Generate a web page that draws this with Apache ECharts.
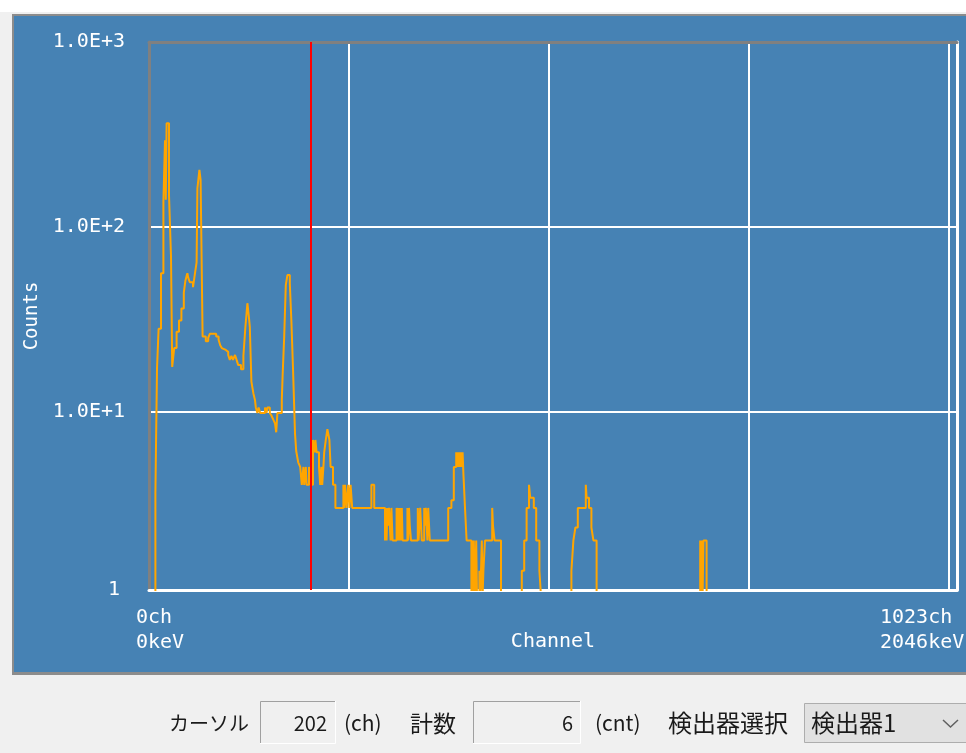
<!DOCTYPE html>
<html><head><meta charset="utf-8">
<script src="https://cdn.jsdelivr.net/npm/echarts@6/dist/echarts.min.js"></script>
<style>html,body{margin:0;padding:0;background:#fff;}#c{width:966px;height:753px;}</style>
</head><body><div id="c"></div>
<script>
// ---- data (step breakpoints: count holds from this channel until the next one) ----
const stepChannels = [0,8,10,12,15,18,20,21,22,25,27.5,29,31.5,34.5,37.5,40.5,43.5,45.5,47,48,49,51,55,57.5,59.5,60.5,63,64.5,67,71,74,76,84,87,89,91,93,96,99,101,103,105,107.5,109.5,111.5,115,118,120.5,123,125,126,128,130.5,132.5,133.5,135.5,137,139,145,147,148,151,153,155.5,157.5,159,160.5,166,167,169,171,173,176,178,180,182.5,184,186.5,189,191,193,194,196,197,200,202,205,207,208,209.5,212.5,214,215.5,216.5,218,219,221,223,225.5,227,230,233,243,244,245,247,249,250.5,252,254,278,281.5,295,296,297,298,299,300,302,303,304.5,309.5,311,312,313,314,315,316,317,323,324,325,326,327.5,336,337,339,341,344,345,346,348,349,351,374,378,381,384,385,386,387,388,389,390,391,392,393,395,397,403,404,405,406,407.5,409,410,413,414,415,416,417,418,420,429,430,432,440,466,469,472,475,476.5,481,484,488,490,528,530.5,533,536,546,547,550,553,555.5,559.5,689,690,691,692,693,697,1023];
const stepCounts = [1,3.6,17,28,56,136,294,140,363,148,69,17.4,22,27,31,36,44,51,54,56,53,50,47,56,64,161,203,179,25.4,24,25,26.3,25.4,24.4,22.8,22,21.5,21,20.2,19,20,19,20.2,19,17.8,16.9,20,28.7,38.5,32,28.7,14.5,12.5,11.5,10.5,9.8,10.5,9.8,10.5,9.8,10.5,9.8,9.5,9,8.6,7.7,9.8,11.5,15.5,25.4,48.3,54.7,49.5,30.6,17.1,7.6,6.1,5.3,5,4,5,4,5,4,5,4,7,6,7,6,5,4,5,4,5,6,7,8,7,5,4,3,4,3,4,3,4,3,4,3,4,3,2,3,2,3,2.4,3,2,3,2,3,2,3,2,3,2,3,2,3,2,3,2.4,2,3,2,3,2,3,2.4,3,2,3,2,3,3.3,5,6,5,6,5,6,5,6,5,6,4.6,3,2,1,2,1,2,1,2,1,1.37,1,1.37,2,1,1.37,2,3,2.4,2,1,1.37,2,3,4,3.4,3,2,1.37,1,1.37,2,2.35,3,4,3.4,3,2.35,2,1,2,1,2,1,2,1,1];
const cursorChannel = 202;
const cursorCount = 6;
const xGridValues = [0, 250, 500, 750, 1000];
const yTickLabels = ['1', '1.0E+1', '1.0E+2', '1.0E+3'];
const xEndLabels = ['0ch\n0keV', '1023ch\n2046keV'];
const xAxisName = 'Channel';
const yAxisName = 'Counts';
const detectorName = '検出器1';

const MONO = '"DejaVu Sans Mono", monospace';
const JP = '"Noto Sans CJK JP", sans-serif';
const BLUE = '#4682b4';

const chart = echarts.init(document.getElementById('c'), null, {renderer: 'canvas'});
const seriesData = stepChannels.map((c, i) => [c, stepCounts[i]]);

function sunkenBox(x, y, w, h) {
  return [
    {type: 'rect', shape: {x: x, y: y, width: w, height: h}, style: {fill: '#f0f0f0'}},
    {type: 'polyline', shape: {points: [[x + 0.5, y + h], [x + 0.5, y + 0.5], [x + w, y + 0.5]]}, style: {stroke: '#a0a0a0', lineWidth: 1, fill: null}},
    {type: 'polyline', shape: {points: [[x + w - 0.5, y], [x + w - 0.5, y + h - 0.5], [x, y + h - 0.5]]}, style: {stroke: '#ffffff', lineWidth: 1, fill: null}}
  ];
}
function txt(x, y, s, size, align, font) {
  return {type: 'text', x: x, y: y, style: {text: s, fill: '#1a1a1a', font: size + 'px ' + (font || JP), textAlign: align || 'left', textVerticalAlign: 'middle'}};
}

const graphics = [
  {type: 'rect', z: -100, shape: {x: 0, y: 12, width: 966, height: 741}, style: {fill: '#f0f0f0'}},
  {type: 'rect', z: -99, shape: {x: 12, y: 14, width: 960, height: 661}, style: {fill: '#8c8c8c'}},
  {type: 'rect', z: -98, shape: {x: 14, y: 16, width: 960, height: 656}, style: {fill: BLUE}},
  {type: 'text', x: 136, y: 605, style: {text: xEndLabels[0], fill: '#fff', font: '20px ' + MONO, lineHeight: 25, textAlign: 'left', textVerticalAlign: 'top'}},
  {type: 'text', x: 880, y: 605, style: {text: xEndLabels[1], fill: '#fff', font: '20px ' + MONO, lineHeight: 25, textAlign: 'left', textVerticalAlign: 'top'}},
  txt(169, 723, 'カーソル', 20),
  ...sunkenBox(260, 701, 76, 43),
  txt(327, 723, String(cursorChannel), 20, 'right'),
  txt(344, 723, '(ch)', 21),
  txt(410, 723, '計数', 23),
  ...sunkenBox(473, 701, 108, 43),
  txt(573, 723, String(cursorCount), 20, 'right'),
  txt(595, 723, '(cnt)', 21),
  txt(668, 723, '検出器選択', 24),
  {type: 'rect', shape: {x: 804.5, y: 703.5, width: 170, height: 39}, style: {fill: '#e1e1e1', stroke: '#adadad', lineWidth: 1}},
  txt(811, 723, detectorName, 24),
  {type: 'polyline', shape: {points: [[943, 720], [950.5, 727], [958, 720]]}, style: {stroke: '#606060', lineWidth: 1.5, fill: null}}
];

const option = {
  animation: false,
  backgroundColor: '#ffffff',
  grid: {left: 149, right: 9, top: 42, bottom: 163, show: false, containLabel: false, outerBoundsMode: 'none'},
  xAxis: [
    {
      type: 'value', position: 'bottom', min: xGridValues[0], max: 1010, interval: 250,
      axisLine: {show: true, onZero: false, lineStyle: {color: '#ffffff', width: 3}},
      axisTick: {show: false},
      axisLabel: {show: false},
      splitLine: {show: true, showMinLine: false, showMaxLine: false, lineStyle: {color: '#ffffff', width: 2}},
      name: xAxisName, nameLocation: 'middle', nameGap: 42,
      nameTextStyle: {color: '#ffffff', fontFamily: MONO, fontSize: 20}
    },
    {
      type: 'value', position: 'top', min: 0, max: 1010,
      axisLine: {show: true, onZero: false, lineStyle: {color: '#808080', width: 3}},
      axisTick: {show: false}, axisLabel: {show: false}, splitLine: {show: false}
    }
  ],
  yAxis: [
    {
      type: 'log', logBase: 10, min: 1.078, max: 1000, position: 'left',
      axisLine: {show: true, onZero: false, lineStyle: {color: '#808080', width: 3}},
      axisTick: {show: false},
      axisLabel: {
        show: true, color: '#ffffff', fontFamily: MONO, fontSize: 20, margin: 24,
        formatter: function (v) {
          if (v < 1.5) return '{one|' + yTickLabels[0] + '}';
          const e = Math.round(Math.log10(v));
          return yTickLabels[e] || '';
        },
        rich: {one: {color: '#ffffff', fontFamily: MONO, fontSize: 20, padding: [0, 5, 0, 0]}}
      },
      splitLine: {show: true, showMinLine: false, showMaxLine: false, lineStyle: {color: '#ffffff', width: 2}},
      name: yAxisName, nameLocation: 'middle', nameGap: 104, nameRotate: 90,
      nameTextStyle: {color: '#ffffff', fontFamily: MONO, fontSize: 19, padding: [0, 0, 0, 0]}
    },
    {
      type: 'log', logBase: 10, min: 1.078, max: 1000, position: 'right',
      axisLine: {show: true, onZero: false, lineStyle: {color: '#ffffff', width: 3}},
      axisTick: {show: false}, axisLabel: {show: false}, splitLine: {show: false}
    }
  ],
  graphic: graphics,
  series: [{
    type: 'line',
    xAxisIndex: 0, yAxisIndex: 0,
    data: seriesData,
    step: 'end',
    showSymbol: false,
    symbol: 'none',
    clip: true,
    lineStyle: {color: '#ffa500', width: 2},
    emphasis: {disabled: true},
    markLine: {
      silent: true, symbol: 'none', animation: false,
      label: {show: false},
      lineStyle: {color: '#ff0000', width: 2, type: 'solid'},
      data: [{xAxis: cursorChannel}]
    }
  }]
};
chart.setOption(option);
</script></body></html>
